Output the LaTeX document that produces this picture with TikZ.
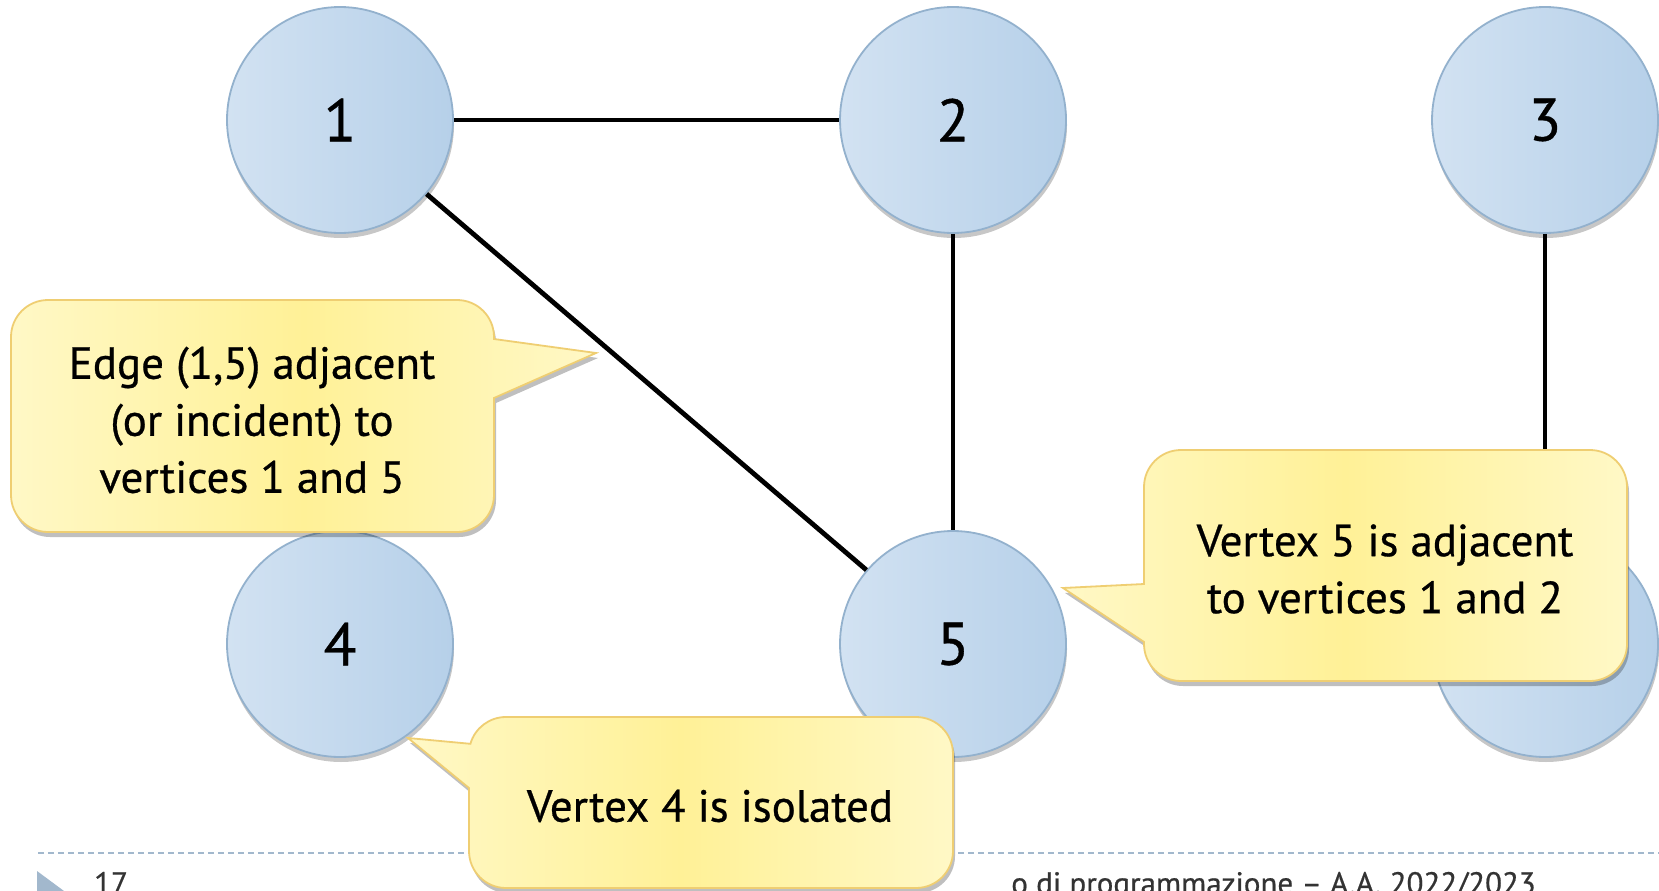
\documentclass[tikz,border=0pt]{standalone}
\usepackage{fontspec}
\setmainfont[FakeBold=0.6]{PT Sans}
\usetikzlibrary{shadows}
\definecolor{circA}{HTML}{D2E2F2}
\definecolor{circB}{HTML}{B6D0E9}
\definecolor{circD}{HTML}{93B1CD}
\definecolor{callA}{HTML}{FFF8C6}
\definecolor{callB}{HTML}{FFF197}
\definecolor{callD}{HTML}{EFCE72}
\definecolor{footD}{HTML}{A2B8CD}
\definecolor{footT}{HTML}{333333}
\tikzset{
  vtx/.style={circle, minimum size=226pt, inner sep=0pt, draw=circD, line width=1.8pt,
    left color=circA, right color=circB,
    drop shadow={shadow xshift=1pt, shadow yshift=-5pt, opacity=0.22, fill=black},
    font=\fontsize{60}{60}\selectfont},
  edge/.style={line width=4.8pt, black},
  callout/.style={draw=callD, line width=1.8pt, left color=callA, right color=callA, middle color=callB,
    drop shadow={shadow xshift=2pt, shadow yshift=-5pt, opacity=0.25, fill=black}},
  ctext/.style={align=center, font=\fontsize{45}{57}\selectfont, inner sep=0pt},
  foot/.style={text=footT, font=\fontsize{31}{31}\selectfont, inner sep=0pt},
}
\begin{document}
\begin{tikzpicture}[x=1pt,y=-1pt]
\clip (0,0) rectangle (1659,891);
\fill[white] (0,0) rectangle (1659,891);
% footer
\coordinate (fl) at (38,853);
\coordinate (fr) at (1659,853);
\draw[footD, line width=2pt, dash pattern=on 6pt off 4pt] (fl) -- (fr);
\fill[footD] (37,871) -- (64,891) -- (37,911) -- cycle;
\node[foot, anchor=base west] (pg) at (94,894) {17};
\node[foot, anchor=base east] (ft) at (1536,894) {o di programmazione – A.A. 2022/2023};
% vertices
\node[vtx] (v1) at (340,120) {1};
\node[vtx] (v2) at (953,120) {2};
\node[vtx] (v3) at (1545,120) {3};
\node[vtx] (v4) at (340,644) {4};
\node[vtx] (v5) at (953,644) {5};
\node[vtx] (v6) at (1545,644) {};
% edges
\draw[edge] (v1) -- (v2);
\draw[edge] (v1) -- (v5);
\draw[edge] (v2) -- (v5);
\draw[edge] (v3) -- (v6);
% callout 1
\path[callout] (48,300) -- (457,300) arc[start angle=-90,end angle=0,radius=37]
  -- (494,339) -- (596,353) -- (494,398) -- (494,495) arc[start angle=0,end angle=90,radius=37]
  -- (48,532) arc[start angle=90,end angle=180,radius=37]
  -- (11,337) arc[start angle=180,end angle=270,radius=37] -- cycle;
\node[ctext] (t1) at (252,420) {Edge (1,5) adjacent\\(or incident) to\\vertices 1 and 5};
% callout 2
\path[callout] (1181,450) -- (1590,450) arc[start angle=-90,end angle=0,radius=37]
  -- (1627,644) arc[start angle=0,end angle=90,radius=37]
  -- (1181,681) arc[start angle=90,end angle=180,radius=37]
  -- (1144,642) -- (1063,588) -- (1144,584) -- (1144,487) arc[start angle=180,end angle=270,radius=37] -- cycle;
\node[ctext] (t2) at (1385,569) {Vertex 5 is adjacent\\to vertices 1 and 2};
% callout 3
\path[callout] (506,717) -- (916,717) arc[start angle=-90,end angle=0,radius=37]
  -- (953,851) arc[start angle=0,end angle=90,radius=37]
  -- (506,888) arc[start angle=90,end angle=180,radius=37]
  -- (469,788) -- (408,738) -- (470.4,743.8) arc[start angle=196,end angle=270,radius=37] -- cycle;
\node[ctext] (t3) at (710,806) {Vertex 4 is isolated};
\end{tikzpicture}
\end{document}
